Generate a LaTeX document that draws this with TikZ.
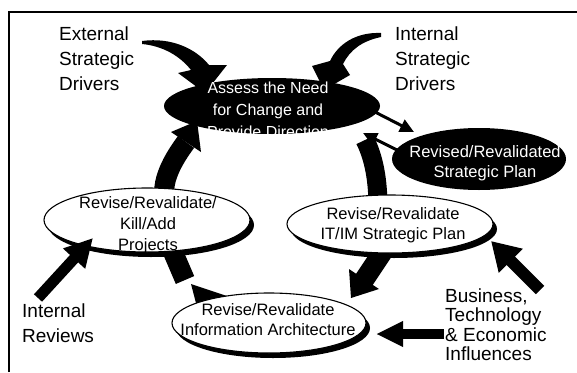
\documentclass[tikz,border=0pt]{standalone}
\usepackage{fontspec}
\setmainfont{Liberation Sans}
\usetikzlibrary{shapes.geometric,arrows.meta}
\begin{document}
\begin{tikzpicture}[x=1pt,y=-1pt,
  ov/.style={ellipse, draw=black, line width=1.1pt, fill=white, inner sep=0pt},
  blk/.style={ellipse, fill=black, inner sep=0pt},
  lbl/.style={font=\fontsize{19}{25}\selectfont, align=left, inner sep=0pt, anchor=base west},
  etxt/.style={font=\fontsize{16.5}{21}\selectfont, align=center, inner sep=0pt, anchor=base},
  band/.style={line width=20pt},
  slim/.style={line width=3pt, -{Triangle[length=14pt,width=13pt]}},
  fat/.style={-{Triangle[length=28pt,width=28pt]}}
]
\useasboundingbox (0,0) rectangle (577,372);
\fill[white] (0,0) rectangle (577,372);
% frame
\draw[line width=1.2pt] (9,372) -- (9,12) -- (577,12);

% named end points
\coordinate (a1s) at (165,200); \coordinate (a1e) at (186,142);
\coordinate (a2s) at (365,140); \coordinate (a2e) at (378,208);
\coordinate (a3s) at (384,250); \coordinate (a3e) at (364,280);
\coordinate (a4s) at (170,245); \coordinate (a4e) at (185,280);

% big cycle arrows (under the ellipses)
\draw[band] (a1s) .. controls (160,178) and (178,153) .. (a1e);
\fill (171,132) -- (197,121) -- (201,152) -- cycle;
\draw[band,line width=19pt] (a2s) .. controls (374,158) and (378,180) .. (a2e);
\draw[band] (a3s) -- (a3e);
\fill (349,269) -- (379,289) -- (351,298) -- cycle;
\draw[band] (a4s) -- (a4e);
\fill (191,284) -- (233,298) -- (197,307) -- cycle;

% swooshes from the drivers
\fill (142,41) .. controls (172,37) and (196,49) .. (209,65) -- (227,65) -- (205,93) -- (178,73) -- (191,70) .. controls (180,56) and (163,46) .. (142,44) -- cycle;
\fill (381,33) .. controls (356,32) and (338,44) .. (330,61) -- (312,66) -- (324,90) -- (350,75) -- (343,64) .. controls (350,50) and (362,41) .. (381,37) -- cycle;

% ellipses
\node[blk, minimum width=216pt, minimum height=56pt] (assess) at (272,106) {};
\node[blk, minimum width=174pt, minimum height=62pt] (revised) at (479,159) {};
\fill ([shift={(4,5)}]390,224) ellipse [x radius=103, y radius=29];
\node[ov, minimum width=206pt, minimum height=58pt] (itim) at (390,224) {};
\fill ([shift={(4,5)}]147,220) ellipse [x radius=103, y radius=32];
\node[ov, minimum width=206pt, minimum height=64pt] (proj) at (147,220) {};
\fill ([shift={(4,5)}]269,323) ellipse [x radius=97, y radius=30];
\node[ov, minimum width=194pt, minimum height=60pt] (arch) at (269,323) {};

% ellipse texts (anchor base = last line)
\node[etxt, text=white, font=\fontsize{16}{22}\selectfont] (assesst) at (268,137) {Assess the Need\\for Change and\\Provide Direction};
\node[etxt, text=white, font=\fontsize{16.5}{20}\selectfont] (revisedt) at (485,177) {Revised/Revalidated\\Strategic Plan};
\node[etxt, font=\fontsize{16.5}{20}\selectfont] (itimt) at (393,239) {Revise/Revalidate\\IT/IM Strategic Plan};
\node[etxt] (projt) at (148,250) {Revise/Revalidate/\\Kill/Add\\Projects};
\node[etxt, font=\fontsize{16.5}{20}\selectfont] (archt) at (268,335) {Revise/Revalidate\\Information Architecture};

% outside labels
\node[lbl] (ext) at (59,90) {External\\Strategic\\Drivers};
\node[lbl] (int) at (395,90) {Internal\\Strategic\\Drivers};
\node[lbl] (rev) at (22,342) {Internal\\Reviews};
\node[lbl, font=\fontsize{19}{19.5}\selectfont] (bus) at (445,360.5) {Business,\\Technology\\\& Economic\\Influences};

% thin arrows between assess and revised plan
\coordinate (t1s) at (375,112); \coordinate (t1e) at (414,132);
\coordinate (t2s) at (401,152); \coordinate (t2e) at (363,133);
\draw[slim] (t1s) -- (t1e);
\draw[slim] (t2s) -- (t2e);

% straight input arrows
\coordinate (irs) at (38,298); \coordinate (ire) at (93,238);
\coordinate (b1s) at (540,290); \coordinate (b1e) at (491,241);
\coordinate (b2s) at (444,334); \coordinate (b2e) at (376,334);
\draw[fat, line width=11pt] (irs) -- (ire);
\draw[line width=12pt, -{Triangle[length=28pt,width=32pt]}] (b1s) -- (b1e);
\draw[line width=10pt, -{Triangle[length=27pt,width=24pt]}] (b2s) -- (b2e);
\end{tikzpicture}
\end{document}
